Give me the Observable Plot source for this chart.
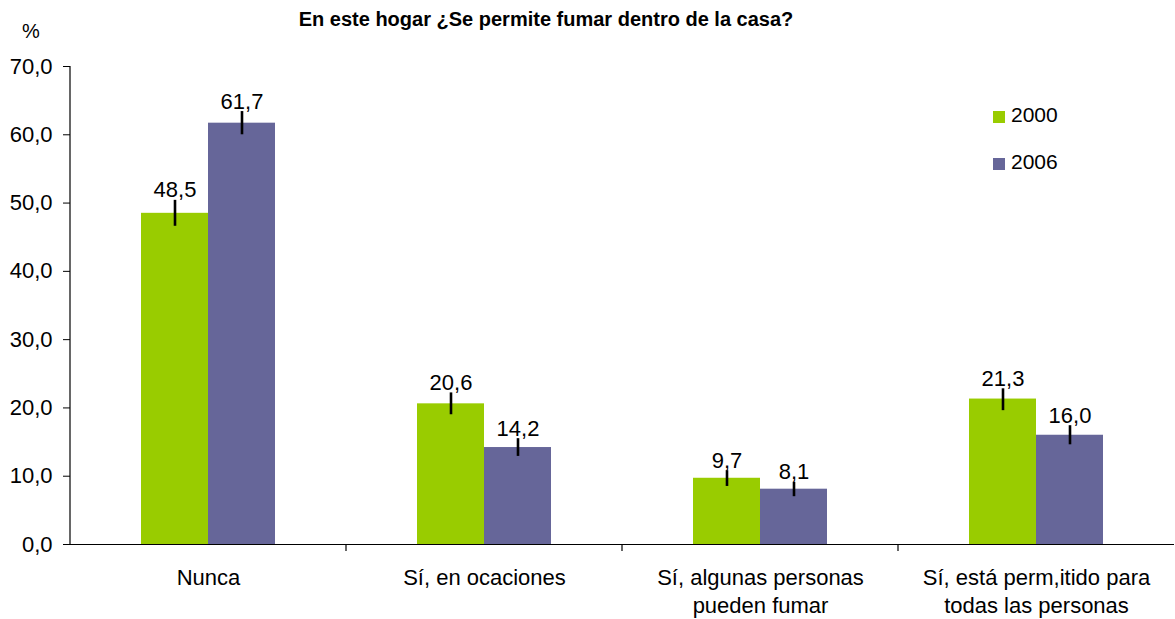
<!DOCTYPE html>
<html>
<head>
<meta charset="utf-8">
<script src="https://cdn.jsdelivr.net/npm/d3@7"></script>
<script src="https://cdn.jsdelivr.net/npm/@observablehq/plot@0.6"></script>
<style>
  body { margin: 0; background: #fff; font-family: "Liberation Sans", Arial, sans-serif; }
  #wrap { position: relative; width: 1175px; height: 619px; overflow: hidden; }
  #title { position: absolute; left: 0; width: 1092px; top: 8px; text-align: center; font-weight: bold; font-size: 20px; color: #000; }
  #pct { position: absolute; left: 22px; top: 20px; font-size: 20px; }
  .leg { position: absolute; left: 993px; font-size: 21px; height: 22px; line-height: 22px; }
  .leg span.sw { display: inline-block; width: 12px; height: 12px; margin-right: 6px; vertical-align: -1px; }
</style>
</head>
<body>
<div id="wrap">
  <div id="title">En este hogar ¿Se permite fumar dentro de la casa?</div>
  <div id="pct">%</div>
</div>
<script>
const categories = ["Nunca", "Sí, en ocaciones", "Sí, algunas personas\npueden fumar", "Sí, está perm,itido para\ntodas las personas"];
const years = ["2000", "2006"];
const colors = ["#99CC00", "#666699"];
const values2000 = [48.5, 20.6, 9.7, 21.3];
const values2006 = [61.7, 14.2, 8.1, 16.0];
const low2000 = [46.6, 19.0, 8.5, 19.6];
const high2000 = [50.4, 22.2, 10.8, 22.8];
const low2006 = [60.0, 12.9, 7.0, 14.6];
const high2006 = [63.4, 15.5, 9.1, 17.4];
const yTicks = [0, 10, 20, 30, 40, 50, 60, 70];

const rows = [];
categories.forEach((c, i) => {
  rows.push({cat: c, year: "2000", value: values2000[i], lo: low2000[i], hi: high2000[i]});
  rows.push({cat: c, year: "2006", value: values2006[i], lo: low2006[i], hi: high2006[i]});
});
const fmt = v => v.toFixed(1).replace(".", ",");
const FONT = "Liberation Sans, Arial, sans-serif";
const FS = 22;

const chart = Plot.plot({
  width: 1175,
  height: 619,
  marginTop: 66,
  marginBottom: 75,
  marginLeft: 69,
  marginRight: 0,
  style: {fontFamily: FONT, fontSize: FS + "px", color: "#000", background: "transparent"},
  fx: {domain: categories, padding: 0, label: null, axis: null},
  x: {domain: years, paddingInner: 0, paddingOuter: 1.04, axis: null},
  y: {domain: [0, 70], label: null, axis: null},
  color: {domain: years, range: colors},
  marks: [
    Plot.barY(rows, {fx: "cat", x: "year", y: "value", fill: "year"}),
    Plot.ruleX(rows, {fx: "cat", x: "year", y1: "lo", y2: "hi", stroke: "#000", strokeWidth: 2.6}),
    Plot.text(rows, {fx: "cat", x: "year", y: "hi", text: d => fmt(d.value), lineAnchor: "bottom", dy: -3, fontSize: FS, fill: "#000"}),
    Plot.ruleY([0], {stroke: "#000", strokeWidth: 1.2}),
    Plot.axisY({ticks: yTicks, tickFormat: fmt, tickSize: 7, tickPadding: 11, fontSize: FS, label: null, stroke: "#000", strokeOpacity: 1}),
    Plot.axisFx({anchor: "bottom", tickSize: 0, tickPadding: 21, lineHeight: 1.25, fontSize: FS, label: null})
  ]
});

// axis line and category boundary ticks, placed from Plot's own scales
const fxs = chart.scale("fx");
const ys = chart.scale("y");
const svg = d3.select(chart);
const x0 = fxs.apply(categories[0]);
svg.append("line").attr("x1", x0).attr("x2", x0).attr("y1", ys.apply(70)).attr("y2", ys.apply(0))
  .attr("stroke", "#000").attr("stroke-width", 1.2);
categories.slice(0, -1).forEach(c => {
  const bx = fxs.apply(c) + fxs.bandwidth;
  svg.append("line").attr("x1", bx).attr("x2", bx).attr("y1", ys.apply(0)).attr("y2", ys.apply(0) + 7)
    .attr("stroke", "#000").attr("stroke-width", 1.2);
});

const wrap = document.getElementById("wrap");
wrap.insertBefore(chart, wrap.firstChild);
chart.style.position = "absolute";
chart.style.left = "0";
chart.style.top = "0";

// legend
const legTops = [104, 151];
years.forEach((y, i) => {
  const d = document.createElement("div");
  d.className = "leg";
  d.style.top = legTops[i] + "px";
  d.innerHTML = `<span class="sw" style="background:${colors[i]}"></span>${y}`;
  wrap.appendChild(d);
});
</script>
</body>
</html>
